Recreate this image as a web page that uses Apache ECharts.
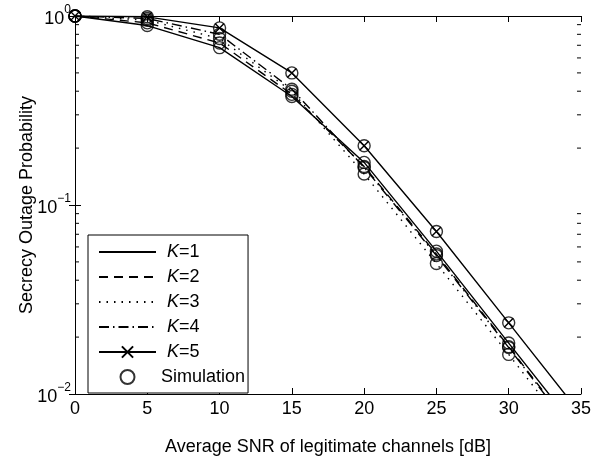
<!DOCTYPE html>
<html>
<head>
<meta charset="utf-8">
<script src="https://cdn.jsdelivr.net/npm/echarts@6/dist/echarts.min.js"></script>
<style>
  html, body { margin: 0; padding: 0; background: #fff; }
  #chart { width: 594px; height: 461px; }
</style>
</head>
<body>
<div id="chart"></div>
<script>
// SNR points [dB]
const snr = [0, 5, 10, 15, 20, 25, 30, 35];

// analytical secrecy outage probability
const k1 = [1, 0.89, 0.68, 0.375, 0.168, 0.057, 0.0186, 0.0061];
const k2 = [1, 0.92, 0.72, 0.385, 0.160, 0.055, 0.0178, 0.0057];
const k3 = [1, 0.95, 0.76, 0.400, 0.146, 0.049, 0.0162, 0.0052];
const k4 = [1, 0.97, 0.80, 0.410, 0.158, 0.054, 0.0176, 0.0056];
const k5 = [1, 0.99, 0.865, 0.500, 0.206, 0.0724, 0.0238, 0.0078];

// simulation points (0..30 dB)
const simSnr = [0, 5, 10, 15, 20, 25, 30];
const sim1 = [1, 0.89, 0.68, 0.375, 0.168, 0.057, 0.0186];
const sim2 = [1, 0.92, 0.72, 0.385, 0.160, 0.055, 0.0178];
const sim3 = [1, 0.95, 0.76, 0.400, 0.146, 0.049, 0.0162];
const sim4 = [1, 0.97, 0.80, 0.410, 0.158, 0.054, 0.0176];
const sim5 = [1, 0.99, 0.865, 0.500, 0.206, 0.0724, 0.0238];

// minor ticks of the log axis
const minorTicks = [0.02, 0.03, 0.04, 0.05, 0.06, 0.07, 0.08, 0.09,
                    0.2, 0.3, 0.4, 0.5, 0.6, 0.7, 0.8, 0.9];

const FONT = 'Liberation Sans, Arial, Helvetica, sans-serif';
const FS = 18;

const pairs = (xs, ys) => xs.map((x, i) => [x, ys[i]]);

const lineSeries = (name, ys, dash, extra) => Object.assign({
    name: name,
    type: 'line',
    data: pairs(snr, ys),
    showSymbol: false,
    symbol: 'none',
    lineStyle: { color: '#000', width: 1.4, type: dash },
    itemStyle: { color: '#000' },
    z: 3
}, extra || {});

const simData = [];
[sim1, sim2, sim3, sim4, sim5].forEach(arr => {
    pairs(simSnr, arr).forEach(p => simData.push(p));
});

const chart = echarts.init(document.getElementById('chart'), null, { renderer: 'canvas' });

const option = {
    animation: false,
    backgroundColor: '#fff',
    textStyle: { fontFamily: FONT },
    grid: { left: 75, right: 9, top: 16, bottom: 55, containLabel: false },
    xAxis: [
        {
            type: 'value',
            min: 0,
            max: 35,
            interval: 5,
            name: 'Average SNR of legitimate channels [dB]',
            nameLocation: 'middle',
            nameGap: 44,
            nameMoveOverlap: false,
            nameTextStyle: { color: '#000', fontSize: FS, fontFamily: FONT },
            axisLine: { lineStyle: { color: '#000', width: 1 } },
            axisTick: { inside: true, length: 6, lineStyle: { color: '#000' } },
            axisLabel: { color: '#000', fontSize: FS, fontFamily: FONT, margin: 6 },
            splitLine: { show: false }
        },
        {
            type: 'value',
            position: 'top',
            min: 0,
            max: 35,
            interval: 5,
            axisLine: { show: true, lineStyle: { color: '#000', width: 1 } },
            axisTick: { inside: true, length: 6, lineStyle: { color: '#000' } },
            axisLabel: { show: false },
            splitLine: { show: false }
        }
    ],
    yAxis: [
        {
            type: 'log',
            logBase: 10,
            min: 0.01,
            max: 1,
            name: 'Secrecy Outage Probability',
            nameLocation: 'middle',
            nameGap: 39,
            nameMoveOverlap: false,
            nameTextStyle: { color: '#000', fontSize: FS, fontFamily: FONT },
            axisLine: { show: true, lineStyle: { color: '#000', width: 1 } },
            axisTick: { inside: true, length: 6, lineStyle: { color: '#000' } },
            axisLabel: {
                color: '#000',
                margin: 4,
                formatter: v => '{b|10}{s|' + String(Math.round(Math.log10(v))).replace('-', '\u2212') + '}',
                rich: {
                    b: { fontSize: FS, fontFamily: FONT, color: '#000', verticalAlign: 'bottom', lineHeight: 24 },
                    s: { fontSize: 12, fontFamily: FONT, color: '#000', verticalAlign: 'top', lineHeight: 24 }
                }
            },
            splitLine: { show: false }
        },
        {
            type: 'log',
            logBase: 10,
            min: 0.01,
            max: 1,
            position: 'right',
            axisLine: { show: true, lineStyle: { color: '#000', width: 1 } },
            axisTick: { inside: true, length: 6, lineStyle: { color: '#000' } },
            axisLabel: { show: false },
            splitLine: { show: false }
        }
    ],
    legend: {
        orient: 'vertical',
        left: 88,
        top: 235,
        backgroundColor: '#fff',
        borderColor: '#000',
        borderWidth: 1,
        borderRadius: 0,
        padding: [8, 3, 7, 10],
        itemWidth: 57,
        itemHeight: 14,
        itemGap: 7,
        textStyle: {
            color: '#000',
            fontSize: FS,
            lineHeight: 18,
            fontFamily: FONT,
            rich: {
                i: { fontStyle: 'italic', fontSize: FS, lineHeight: 18, fontFamily: FONT, color: '#000', padding: [0, 0, 0, 6] },
                n: { fontSize: FS, lineHeight: 18, fontFamily: FONT, color: '#000' }
            }
        },
        formatter: name => name.charAt(0) === 'K' ? '{i|K}{n|' + name.slice(1) + '}' : name,
        data: [
            { name: 'K=1', itemStyle: { opacity: 0 } },
            { name: 'K=2', itemStyle: { opacity: 0 } },
            { name: 'K=3', itemStyle: { opacity: 0 } },
            { name: 'K=4', itemStyle: { opacity: 0 } },
            { name: 'K=5' },
            { name: 'Simulation' }
        ]
    },
    series: [
        lineSeries('K=1', k1, 'solid'),
        lineSeries('K=2', k2, [9, 6]),
        lineSeries('K=3', k3, [1.5, 6]),
        lineSeries('K=4', k4, [10, 4, 1.5, 4]),
        lineSeries('K=5', k5, 'solid', {
            showSymbol: true,
            symbol: 'path://M0,0L10,10M10,0L0,10',
            symbolSize: 9,
            itemStyle: { color: 'none', borderColor: '#000', borderWidth: 1.4 }
        }),
        {
            name: 'Simulation',
            type: 'scatter',
            data: simData,
            symbol: 'circle',
            symbolSize: 12,
            itemStyle: { color: 'rgba(0,0,0,0)', borderColor: '#000', borderWidth: 1.4 },
            z: 4
        },
        {
            // log-axis minor ticks on the left and right frame
            type: 'custom',
            silent: true,
            data: minorTicks.map(v => [0, v]),
            renderItem: (params, api) => {
                const v = api.value(1);
                const l = api.coord([0, v]);
                const r = api.coord([35, v]);
                return {
                    type: 'group',
                    children: [
                        { type: 'line', shape: { x1: l[0], y1: l[1], x2: l[0] + 4, y2: l[1] }, style: { stroke: '#000', lineWidth: 1 } },
                        { type: 'line', shape: { x1: r[0], y1: r[1], x2: r[0] - 4, y2: r[1] }, style: { stroke: '#000', lineWidth: 1 } }
                    ]
                };
            },
            z: 2
        }
    ]
};

chart.setOption(option);
</script>
</body>
</html>
